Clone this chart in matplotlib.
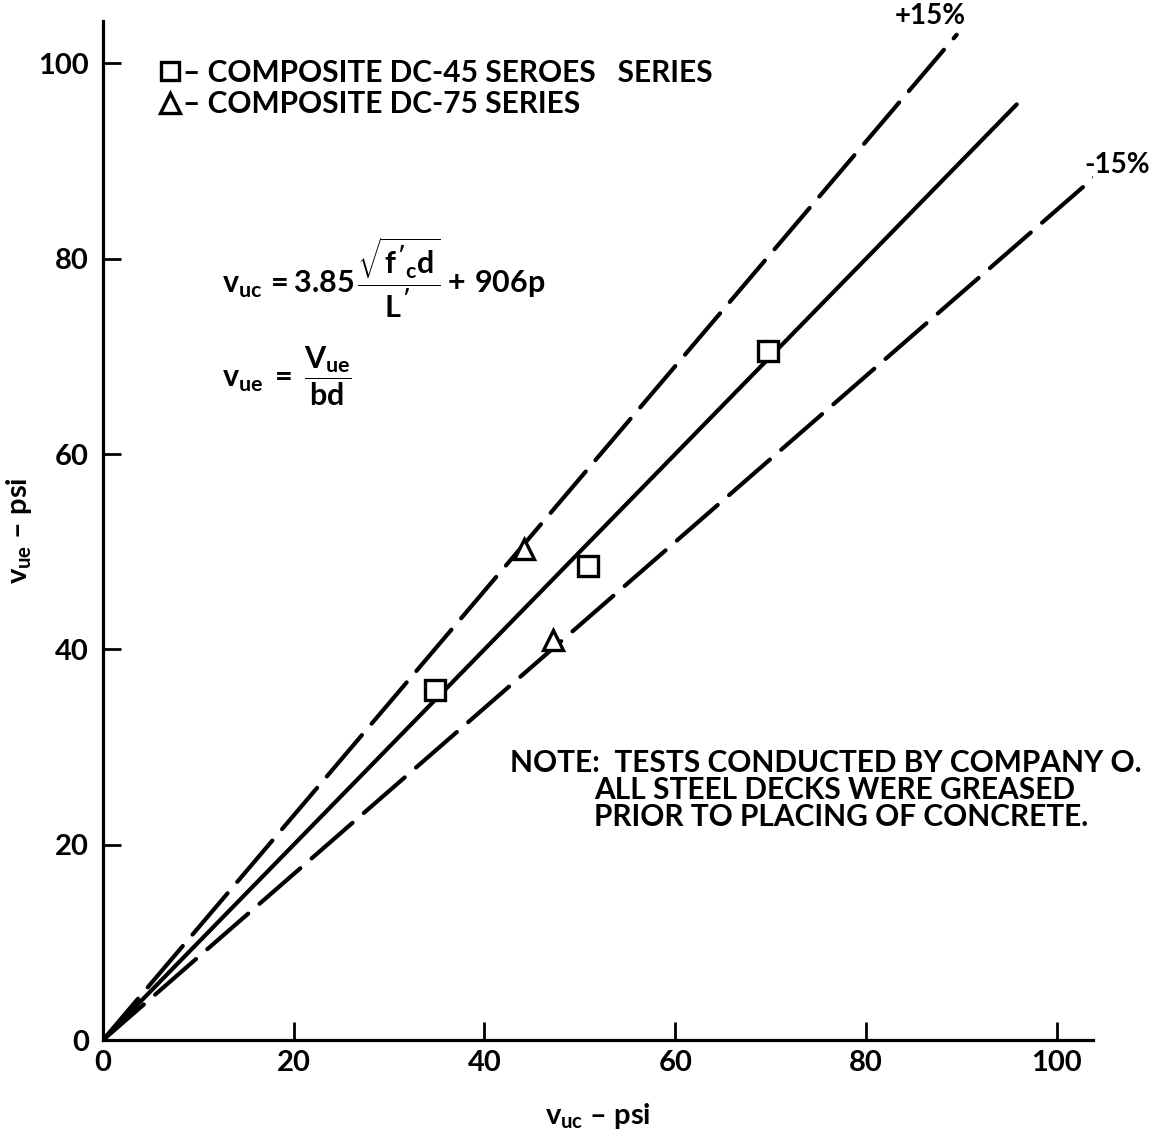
import matplotlib
matplotlib.use("Agg")
import matplotlib.pyplot as plt
import numpy as np

FONT = ['Lato', 'DejaVu Sans']
plt.rcParams['font.family'] = FONT
plt.rcParams['font.weight'] = 'bold'
plt.rcParams['axes.labelweight'] = 'bold'
plt.rcParams['mathtext.fontset'] = 'custom'
plt.rcParams['mathtext.rm'] = 'Lato:bold'
plt.rcParams['mathtext.it'] = 'Lato:bold'
plt.rcParams['mathtext.bf'] = 'Lato:bold'
plt.rcParams['mathtext.sf'] = 'Lato:bold'

# Test series: computed v_uc vs. experimental v_ue (psi)
dc45_vuc = [34.8, 50.9, 69.7]
dc45_vue = [35.8, 48.5, 70.5]
dc75_vuc = [44.1, 47.2]
dc75_vue = [50.3, 41.0]
series_labels = ['– COMPOSITE DC-45 SEROES   SERIES',
                 '– COMPOSITE DC-75 SERIES']

# Reference lines: equality and +/-15 % bands
band = 0.15
line_end_equal = 95.8
line_end_upper = 89.5
line_end_lower = 105.0

ticks = [0, 20, 40, 60, 80, 100]

fig = plt.figure(figsize=(11.53, 11.42), dpi=100)
ax = fig.add_axes([0.0893, 0.0893, 0.8587, 0.892])
ax.set_xlim(0, 103.8)
ax.set_ylim(0, 104.3)

for side in ('top', 'right'):
    ax.spines[side].set_visible(False)
for side in ('left', 'bottom'):
    ax.spines[side].set_linewidth(2.3)

ax.set_xticks(ticks)
ax.set_yticks(ticks)
ax.tick_params(direction='in', length=13, width=2.0, labelsize=21)
for lab in ax.get_xticklabels() + ax.get_yticklabels():
    lab.set_fontweight('bold')
ax.tick_params(axis='y', pad=10)
ax.tick_params(axis='x', pad=7)

lw = 3.0
dash = (0, (13, 3.6))

x = np.array([0, line_end_equal])
ax.plot(x, x, color='black', lw=lw, solid_capstyle='round')
x = np.array([0, line_end_upper])
ax.plot(x, (1 + band) * x, color='black', lw=lw, linestyle=dash,
        dash_capstyle='round')
x = np.array([0, line_end_lower])
ax.plot(x, (1 - band) * x, color='black', lw=lw, linestyle=dash,
        dash_capstyle='round')

h45, = ax.plot(dc45_vuc, dc45_vue, linestyle='none', marker='s', ms=14,
               mfc='white', mec='black', mew=2.4, zorder=5,
               label=series_labels[0])
h75, = ax.plot(dc75_vuc, dc75_vue, linestyle='none', marker='^', ms=15,
               mfc='white', mec='black', mew=2.4, zorder=5,
               label=series_labels[1])

ax.legend(handles=[h45, h75], loc='upper left', bbox_to_anchor=(0.039, 0.981),
          frameon=False, handlelength=0.7, handletextpad=0.1,
          labelspacing=0.12, borderaxespad=0.6, borderpad=0.0,
          prop={'size': 21.5, 'weight': 'bold'}, markerscale=0.95)

ax.text(86.7, 104.8, '+15%', fontsize=20, ha='center', va='center',
        clip_on=False)
ax.text(106.3, 89.6, '-15%', fontsize=20, ha='center', va='center',
        clip_on=False)

# Formulas
ax.text(12.5, 78.0, r"$v_{uc}\,=3.85\,\dfrac{\sqrt{f'_c d}}{L'}+\,906p$",
        fontsize=22, ha='left', va='center')
ax.text(12.5, 68.0, r"$v_{ue}\;=\;\dfrac{V_{ue}}{bd}$",
        fontsize=22, ha='left', va='center')

# Note
ax.text(42.7, 28.4, 'NOTE:  TESTS CONDUCTED BY COMPANY O.', fontsize=21.5,
        ha='left', va='center', clip_on=False)
ax.text(51.5, 25.6, 'ALL STEEL DECKS WERE GREASED', fontsize=21.5,
        ha='left', va='center')
ax.text(51.5, 22.8, 'PRIOR TO PLACING OF CONCRETE.', fontsize=21.5,
        ha='left', va='center')

ax.set_xlabel(r'$v_{uc}$ – psi', fontsize=21, labelpad=18)
ax.set_ylabel(r'$v_{ue}$ – psi', fontsize=21, labelpad=3)

fig.savefig('out.png', dpi=100)
